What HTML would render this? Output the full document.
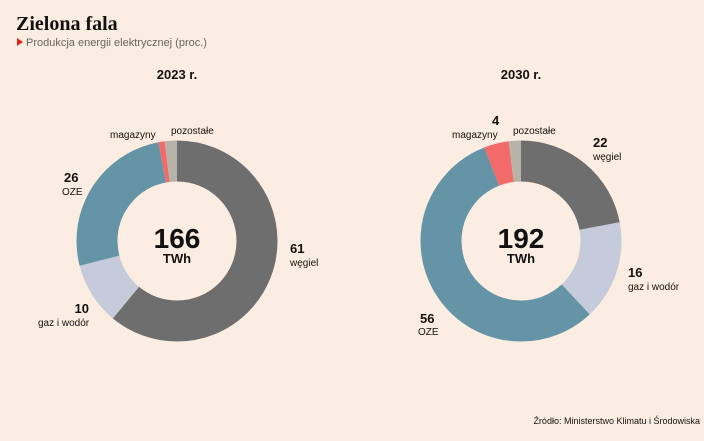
<!DOCTYPE html>
<html><head><meta charset="utf-8"><style>
html,body{margin:0;padding:0;background:#fbede1;}
svg{display:block;font-family:"Liberation Sans",sans-serif;}
</style></head><body>
<svg width="704" height="441" viewBox="0 0 704 441">
<rect width="704" height="441" fill="#fbede1"/>
<text x="16" y="30" font-family="Liberation Serif,serif" font-weight="bold" font-size="20" fill="#111">Zielona fala</text>
<polygon points="17,38 17,46 23,42" fill="#e2231a"/>
<text x="26" y="46" font-size="11" fill="#666">Produkcja energii elektrycznej (proc.)</text>

<g transform="translate(177,241) rotate(-90)" fill="none" stroke-width="41">
<circle r="80" stroke="#6e6e6e" stroke-dasharray="306.6 502.65" stroke-dashoffset="0"/>
<circle r="80" stroke="#c5cbdb" stroke-dasharray="50.3 502.65" stroke-dashoffset="-306.6"/>
<circle r="80" stroke="#6494a5" stroke-dasharray="130.7 502.65" stroke-dashoffset="-356.9"/>
<circle r="80" stroke="#f26a6a" stroke-dasharray="5.0 502.65" stroke-dashoffset="-487.6"/>
<circle r="80" stroke="#b8b3a8" stroke-dasharray="10.05 502.65" stroke-dashoffset="-492.6"/>
</g>
<g transform="translate(521,241) rotate(-90)" fill="none" stroke-width="41">
<circle r="80" stroke="#6e6e6e" stroke-dasharray="110.6 502.65" stroke-dashoffset="0"/>
<circle r="80" stroke="#c5cbdb" stroke-dasharray="80.4 502.65" stroke-dashoffset="-110.6"/>
<circle r="80" stroke="#6494a5" stroke-dasharray="281.5 502.65" stroke-dashoffset="-191"/>
<circle r="80" stroke="#f26a6a" stroke-dasharray="20.1 502.65" stroke-dashoffset="-472.5"/>
<circle r="80" stroke="#b8b3a8" stroke-dasharray="10.05 502.65" stroke-dashoffset="-492.6"/>
</g>

<g fill="#111" font-weight="bold" text-anchor="middle">
<text x="177" y="79" font-size="13">2023 r.</text>
<text x="521" y="79" font-size="13">2030 r.</text>
<text x="177" y="248" font-size="28">166</text>
<text x="177" y="263" font-size="13">TWh</text>
<text x="521" y="248" font-size="28">192</text>
<text x="521" y="263" font-size="13">TWh</text>
</g>
<g fill="#111" font-size="10">
<text x="110" y="138">magazyny</text>
<text x="171" y="134">pozostałe</text>
<text x="64" y="182" font-size="13" font-weight="bold">26</text>
<text x="62" y="195">OZE</text>
<text x="290" y="253" font-size="13" font-weight="bold">61</text>
<text x="290" y="266">węgiel</text>
<text x="89" y="313" font-size="13" font-weight="bold" text-anchor="end">10</text>
<text x="38" y="326">gaz i wodór</text>

<text x="492" y="125" font-size="13" font-weight="bold">4</text>
<text x="452" y="138">magazyny</text>
<text x="513" y="134">pozostałe</text>
<text x="593" y="147" font-size="13" font-weight="bold">22</text>
<text x="593" y="160">węgiel</text>
<text x="628" y="277" font-size="13" font-weight="bold">16</text>
<text x="628" y="290">gaz i wodór</text>
<text x="420" y="323" font-size="13" font-weight="bold">56</text>
<text x="418" y="335">OZE</text>
<text x="700" y="424" font-size="9" text-anchor="end">Źródło: Ministerstwo Klimatu i Środowiska</text>
</g>
</svg>
</body></html>
